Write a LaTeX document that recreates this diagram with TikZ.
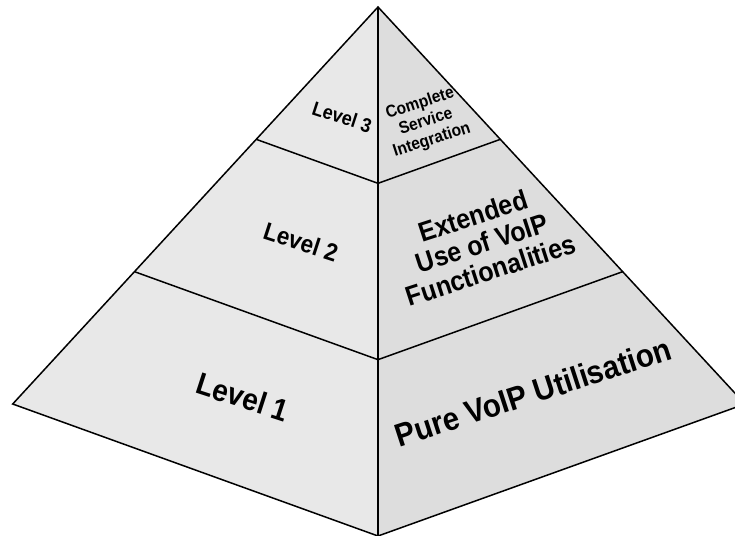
\documentclass[tikz,border=0pt]{standalone}
\usepackage{fontspec}
\setmainfont{Liberation Sans}
\usetikzlibrary{calc}
\definecolor{faceL}{RGB}{232,232,232}
\definecolor{faceR}{RGB}{221,221,221}
\begin{document}
\begin{tikzpicture}[x=1pt,y=-1pt,
  edge/.style={line width=1.5pt, line join=miter},
  lbl/.style={align=center, inner sep=0pt},
  leftlbl/.style={lbl, rotate=-18, yscale=1.1},
  rightlbl/.style={lbl, rotate=18, yscale=1.1}]
\useasboundingbox (0,0) rectangle (735,535);
\clip (0,0) rectangle (735,535);
% pyramid corners
\coordinate (A) at (378,7);
\coordinate (L) at (12.7,404);
\coordinate (B) at (378,536);
\coordinate (R) at (745,404);
% level boundaries at thirds of each edge
\coordinate (L3) at ($(A)!1/3!(L)$);
\coordinate (C3) at ($(A)!1/3!(B)$);
\coordinate (R3) at ($(A)!1/3!(R)$);
\coordinate (L2) at ($(A)!2/3!(L)$);
\coordinate (C2) at ($(A)!2/3!(B)$);
\coordinate (R2) at ($(A)!2/3!(R)$);
% faces
\fill[faceL] (A) -- (L) -- (B) -- cycle;
\fill[faceR] (A) -- (R) -- (B) -- cycle;
\draw[edge] (A) -- (L) -- (B) -- (R) -- cycle;
\draw[edge] (A) -- (B);
\draw[edge] (L3) -- (C3) -- (R3);
\draw[edge] (L2) -- (C2) -- (R2);
% labels
\node[leftlbl, font=\bfseries\fontsize{18}{21}\selectfont] (lv3) at (342,117) {Level 3};
\node[leftlbl, font=\bfseries\fontsize{22.5}{26}\selectfont] (lv2) at (301,242) {Level 2};
\node[leftlbl, font=\bfseries\fontsize{28}{32}\selectfont] (lv1) at (243,397) {Level 1};
\node[rightlbl, font=\bfseries\fontsize{15.5}{17.5}\selectfont] (d3) at (426,122) {Complete\\Service\\Integration};
\node[rightlbl, font=\bfseries\fontsize{25}{26}\selectfont] (d2) at (482,243) {Extended\\Use of VoIP\\Functionalities};
\node[rightlbl, font=\bfseries\fontsize{29.5}{34}\selectfont] (d1) at (533,392) {Pure VoIP Utilisation};
\end{tikzpicture}
\end{document}
